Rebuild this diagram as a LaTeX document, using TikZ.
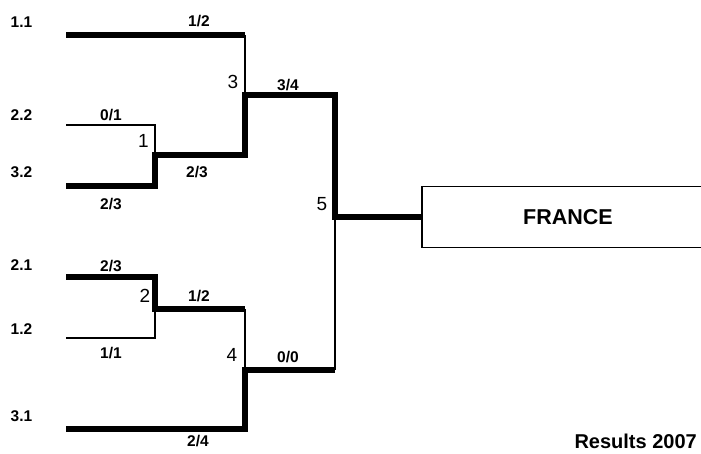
\documentclass[tikz,border=0pt]{standalone}
\usepackage{fontspec}
\setmainfont{Liberation Sans}
\usetikzlibrary{positioning}
\tikzset{
  seedlbl/.style={font=\fontsize{15.5}{18}\selectfont\bfseries, inner sep=0pt},
  scorelbl/.style={font=\fontsize{15.5}{18}\selectfont\bfseries, inner sep=0pt},
  matchlbl/.style={font=\fontsize{19}{22}\selectfont, inner sep=0pt},
  winline/.style={line width=5.5pt, line join=miter},
  loseline/.style={line width=1.3pt},
  champbox/.style={draw, line width=1.3pt, minimum width=292pt, minimum height=61pt,
                   font=\fontsize{21.5}{25}\selectfont\bfseries}
}
\begin{document}
\begin{tikzpicture}[x=1pt,y=-1pt]
  \useasboundingbox (0,0) rectangle (701,453);

  %% seeds
  \node[seedlbl] (t11) at (21.5,22)  {1.1};
  \node[seedlbl] (t22) at (21.5,115) {2.2};
  \node[seedlbl] (t32) at (21.5,172) {3.2};
  \node[seedlbl] (t21) at (21.5,265) {2.1};
  \node[seedlbl] (t12) at (21.5,329) {1.2};
  \node[seedlbl] (t31) at (21.5,416) {3.1};

  % line ends
  \coordinate (s11) at (66,35);
  \coordinate (s22) at (66,125);
  \coordinate (s32) at (66,186);
  \coordinate (s21) at (66,277);
  \coordinate (s12) at (66,338);
  \coordinate (s31) at (66,429);

  % match corners
  \coordinate (m1a) at (155,125); \coordinate (m1b) at (155,186); \coordinate (m1) at (155,155);
  \coordinate (m2a) at (155,277); \coordinate (m2b) at (155,338); \coordinate (m2) at (155,309);
  \coordinate (m3a) at (245,35);  \coordinate (m3b) at (245,155); \coordinate (m3) at (245,95);
  \coordinate (m4a) at (245,309); \coordinate (m4b) at (245,429); \coordinate (m4) at (245,370);
  \coordinate (m5a) at (335,95);  \coordinate (m5b) at (335,370); \coordinate (m5) at (335,217);

  %% winner box
  \node[champbox] (champ) at (568,217) {FRANCE};

  %% losing sides
  \draw[loseline] (s22) -- (m1a) -- (m1);
  \draw[loseline] (s12) -- (m2b) -- (m2);
  \draw[loseline] (m3a) -- (m3);
  \draw[loseline] (m4a) -- (m4);
  \draw[loseline] (m5b) -- (m5);

  %% winning sides
  \draw[winline] (s11) -- (m3a);
  \draw[winline] (s32) -- (m1b) -- (m1) -- (m3b) -- (m3) -- (m5a) -- (m5) -- (champ.west);
  \draw[winline] (s21) -- (m2a) -- (m2) -- (m4a);
  \draw[winline] (s31) -- (m4b) -- (m4) -- (m5b);

  %% scores
  \node[scorelbl] (r1) at (199,21)  {1/2};
  \node[scorelbl] (r2) at (111,115) {0/1};
  \node[scorelbl] (r3) at (111,204) {2/3};
  \node[scorelbl] (r4) at (197,172) {2/3};
  \node[scorelbl] (r5) at (288,85)  {3/4};
  \node[scorelbl] (r6) at (111,266) {2/3};
  \node[scorelbl] (r7) at (199,296) {1/2};
  \node[scorelbl] (r8) at (111,353) {1/1};
  \node[scorelbl] (r9) at (288,357) {0/0};
  \node[scorelbl] (r10) at (198,441) {2/4};

  %% match numbers
  \node[matchlbl] (n1) at (143.5,141) {1};
  \node[matchlbl] (n2) at (145,296)   {2};
  \node[matchlbl] (n3) at (233,82)    {3};
  \node[matchlbl] (n4) at (232,355)   {4};
  \node[matchlbl] (n5) at (322,204)   {5};

  \node[font=\fontsize{20}{24}\selectfont\bfseries, inner sep=0pt, anchor=east] (res) at (697,441) {Results 2007};
\end{tikzpicture}
\end{document}
